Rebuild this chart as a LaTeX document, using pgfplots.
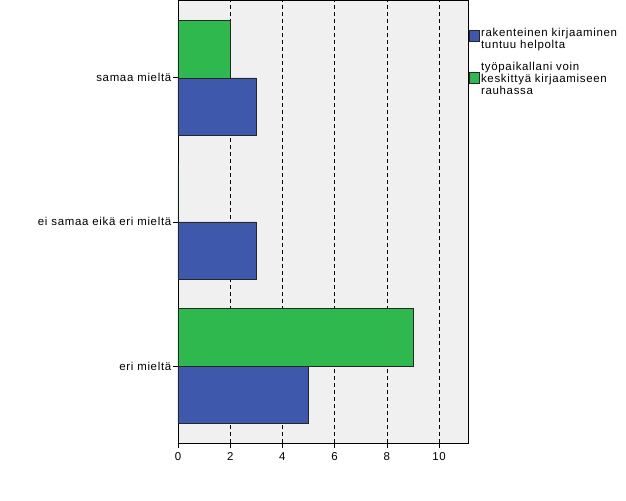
\documentclass[border=0pt]{standalone}
\usepackage{fontspec}
\setmainfont{Liberation Sans}[LetterSpace=6]
\usepackage{pgfplots}
\pgfplotsset{compat=1.18}
\definecolor{bblue}{RGB}{62,88,172}
\definecolor{bgreen}{RGB}{46,184,78}
\definecolor{bg}{RGB}{240,240,240}
\begin{document}
\begin{tikzpicture}
\path[use as bounding box] (-178bp,-58bp) rectangle (448bp,443bp);
\begin{axis}[
 at={(0,0)}, anchor=south west,
 scale only axis, width=290bp, height=443bp,
 xbar, bar width=0.4,
 xmin=0, xmax=11.11, ymin=-0.535, ymax=2.54,
 xtick={0,2,...,10},
 ytick={0,1,2}, yticklabels={eri mieltä, ei samaa eikä eri mieltä, samaa mieltä},
 tick align=outside, xtick pos=bottom, ytick pos=left,
 major tick length=5bp,
 tick style={black, line width=0.6pt},
 xmajorgrids, grid style={black, dash pattern=on 4bp off 3bp, line width=0.6pt},
 axis background/.style={fill=bg},
 axis line style={black, line width=0.8pt},
 font=\fontsize{11.5}{12}\selectfont,
 yticklabel style={inner sep=1.5bp},
 xticklabel style={inner sep=4.5bp},
 /pgf/number format/assume math mode=true,
 legend style={at={(1.003,0.94)}, anchor=north west, draw=none, fill=none,
   font=\fontsize{11.5}{11.5}\selectfont, row sep=15bp, inner sep=0pt,
   nodes={inner sep=1.5bp}},
 legend cell align=left,
]
\addlegendimage{legend image code/.code={\draw[fill=bblue, draw=black!85, line width=0.5pt] (0bp,-5.1bp) rectangle (10bp,5.9bp);}}
\addlegendimage{legend image code/.code={\draw[fill=bgreen, draw=black!85, line width=0.5pt] (0bp,-9.6bp) rectangle (10bp,1.4bp);}}
\addplot[forget plot, fill=bblue, draw=black!85, line width=0.5pt, bar shift=-0.2] coordinates {(3,2) (3,1) (5,0)};
\addplot[forget plot, fill=bgreen, draw=black!85, line width=0.5pt, bar shift=0.2] coordinates {(2,2) (0,1) (9,0)};
\legend{{\begin{tabular}[c]{@{}l@{}}rakenteinen kirjaaminen\\tuntuu helpolta\end{tabular}},
        {\begin{tabular}[c]{@{}l@{}}työpaikallani voin\\keskittyä kirjaamiseen\\rauhassa\end{tabular}}}
\end{axis}
\end{tikzpicture}
\end{document}
